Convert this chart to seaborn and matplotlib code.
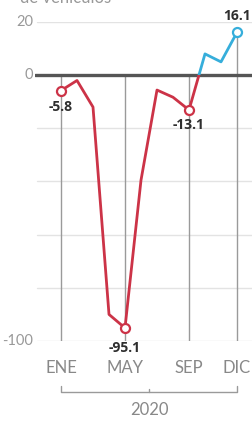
import matplotlib
matplotlib.use("Agg")
import matplotlib.pyplot as plt
from matplotlib.patches import Rectangle
import seaborn as sns
import numpy as np
import pandas as pd

months = ["ENE", "FEB", "MAR", "ABR", "MAY", "JUN", "JUL", "AGO", "SEP", "OCT", "NOV", "DIC"]
values = [-5.8, -2.0, -12.0, -90.0, -95.1, -39.5, -5.6, -8.3, -13.1, 8.0, 5.0, 16.1]
tick_months = ["ENE", "MAY", "SEP", "DIC"]
label_months = ["ENE", "MAY", "SEP", "DIC"]
label_texts = ["-5.8", "-95.1", "-13.1", "16.1"]
y_ticks = [20, 0, -100]
grid_levels = [20, -20, -40, -60, -80, -100]
year_label = "2020"
title_text = "de vehículos"

RED = "#cc3347"
BLUE = "#36aedb"

df = pd.DataFrame({"m": np.arange(len(months)), "v": values, "name": months})

sns.set_theme(style="white")
plt.rcParams["font.family"] = ["Lato", "DejaVu Sans"]

W, H = 252, 421
fig = plt.figure(figsize=(W / 100, H / 100), dpi=100)
ax = fig.add_axes([35 / W, 1 - 341 / H, 217 / W, 319 / H])
ax.set_xlim(-1.625, 11.9375)
ax.set_ylim(-100, 20)
ax.axis("off")

# horizontal grid
for g in grid_levels:
    ax.axhline(g, color="#e3e3e3", lw=1.0, zorder=0, xmin=0.01)

# vertical drop lines at labelled months
idx = [months.index(t) for t in tick_months]
tops = [max(0, values[i]) for i in idx]
ax.vlines(idx, [-100] * len(idx), tops, color="#9a9a9a", lw=1.0, zorder=1)

# zero line
ax.axhline(0, color="#555555", lw=2.4, zorder=2)

# colored lines
sns.lineplot(data=df, x="m", y="v", color=RED, lw=2.0, ax=ax, zorder=3)
red_line = ax.lines[-1]
sns.lineplot(data=df, x="m", y="v", color=BLUE, lw=2.0, ax=ax, zorder=3)
blue_line = ax.lines[-1]
red_clip = Rectangle((-5, -300), 30, 300, transform=ax.transData)
blue_clip = Rectangle((-5, 0), 30, 300, transform=ax.transData)
red_line.set_clip_path(red_clip)
blue_line.set_clip_path(blue_clip)

# markers
mk = df[df["name"].isin(label_months)].copy()
for _, r in mk.iterrows():
    col = RED if r["v"] < 0 else BLUE
    ax.plot(r["m"], r["v"], marker="o", ms=6.5, mfc="white", mec=col, mew=1.6,
            zorder=5, clip_on=False)

# value labels
offsets = {"ENE": (0, -3.5), "MAY": (0, -5.0), "SEP": (0, -3.0), "DIC": (0, 3.5)}
for name, txt in zip(label_months, label_texts):
    i = months.index(name)
    dx, dy = offsets[name]
    va = "top" if dy < 0 else "bottom"
    ax.text(i + dx, values[i] + dy, txt, ha="center", va=va, fontsize=10,
            fontweight="bold", family=["Open Sans", "DejaVu Sans"], color="#2e2e2e",
            zorder=6)

# y tick labels
for t in y_ticks:
    ax.text(-1.75, t, str(t), ha="right", va="center", fontsize=10.5,
            color="#999999", fontweight="normal", clip_on=False)

# x tick labels
for name in tick_months:
    i = months.index(name)
    ax.text(i, -110.3, name, ha="center", va="center", fontsize=12,
            color="#888888", fontweight="normal", clip_on=False)

# year bracket
x0, x1 = months.index(tick_months[0]), months.index(tick_months[-1])
yb = -119.2
ax.plot([x0, x0, x1, x1], [yb + 2.2, yb, yb, yb + 2.2], color="#9a9a9a", lw=1.0, clip_on=False)
xm = (x0 + x1) / 2
ax.plot([xm, xm], [yb, yb + 1.2], color="#9a9a9a", lw=1.0, clip_on=False)
ax.text(xm, -125.8, year_label, ha="center", va="center", fontsize=12,
        color="#888888", fontweight="normal", clip_on=False)

fig.text(20 / W, 1 - 3 / H, title_text, ha="left", va="baseline", fontsize=12,
         color="#999999", fontweight="normal")

fig.savefig("out.png", dpi=100)
